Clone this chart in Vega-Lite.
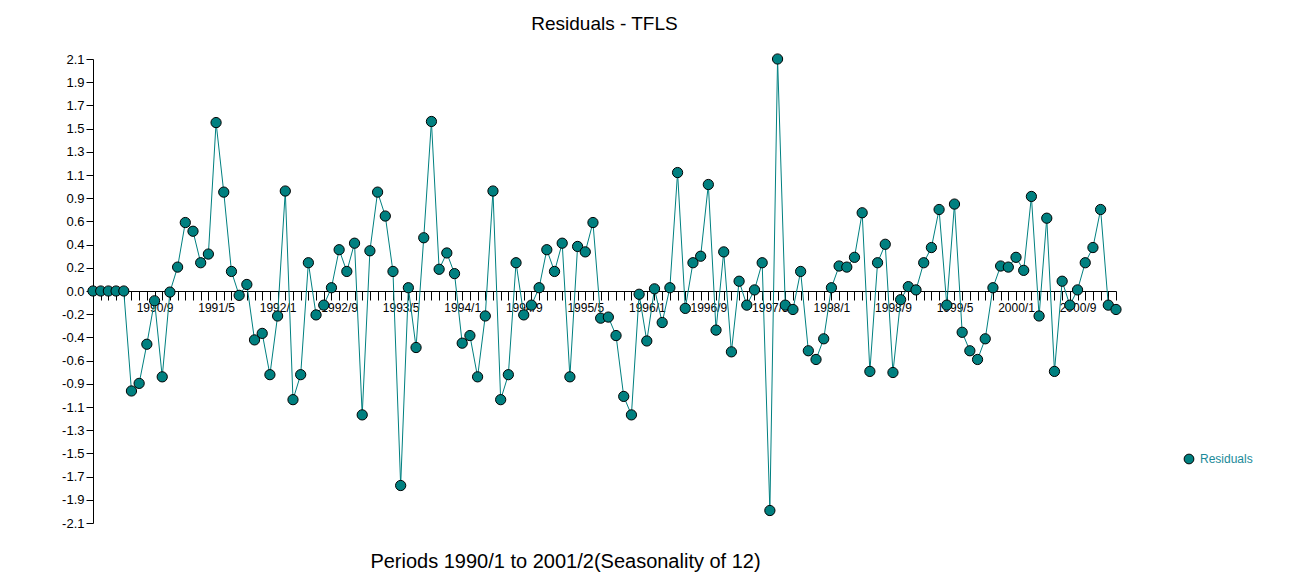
{
  "$schema": "https://vega.github.io/schema/vega-lite/v6.json",
  "autosize": "none",
  "width": 1023,
  "height": 464,
  "padding": {"left": 93, "top": 59, "right": 188, "bottom": 52},
  "background": "white",
  "title": {"text": "Residuals - TFLS", "fontSize": 19, "font": "Liberation Sans", "fontWeight": "normal", "anchor": "middle", "baseline": "alphabetic", "offset": 3, "color": "#000000"},
  "config": {"view": {"stroke": null}, "font": "Liberation Sans"},
  "data": {"values": [
    {"period": "1990/1", "residual": 0}, {"period": "1990/2", "residual": 0}, {"period": "1990/3", "residual": 0}, {"period": "1990/4", "residual": 0},
    {"period": "1990/5", "residual": 0}, {"period": "1990/6", "residual": -0.92}, {"period": "1990/7", "residual": -0.85}, {"period": "1990/8", "residual": -0.49},
    {"period": "1990/9", "residual": -0.09}, {"period": "1990/10", "residual": -0.79}, {"period": "1990/11", "residual": -0.01}, {"period": "1990/12", "residual": 0.22},
    {"period": "1991/1", "residual": 0.63}, {"period": "1991/2", "residual": 0.55}, {"period": "1991/3", "residual": 0.26}, {"period": "1991/4", "residual": 0.34},
    {"period": "1991/5", "residual": 1.55}, {"period": "1991/6", "residual": 0.91}, {"period": "1991/7", "residual": 0.18}, {"period": "1991/8", "residual": -0.04},
    {"period": "1991/9", "residual": 0.06}, {"period": "1991/10", "residual": -0.45}, {"period": "1991/11", "residual": -0.39}, {"period": "1991/12", "residual": -0.77},
    {"period": "1992/1", "residual": -0.23}, {"period": "1992/2", "residual": 0.92}, {"period": "1992/3", "residual": -1.0}, {"period": "1992/4", "residual": -0.77},
    {"period": "1992/5", "residual": 0.26}, {"period": "1992/6", "residual": -0.22}, {"period": "1992/7", "residual": -0.13}, {"period": "1992/8", "residual": 0.03},
    {"period": "1992/9", "residual": 0.38}, {"period": "1992/10", "residual": 0.18}, {"period": "1992/11", "residual": 0.44}, {"period": "1992/12", "residual": -1.14},
    {"period": "1993/1", "residual": 0.37}, {"period": "1993/2", "residual": 0.91}, {"period": "1993/3", "residual": 0.69}, {"period": "1993/4", "residual": 0.18},
    {"period": "1993/5", "residual": -1.79}, {"period": "1993/6", "residual": 0.03}, {"period": "1993/7", "residual": -0.52}, {"period": "1993/8", "residual": 0.49},
    {"period": "1993/9", "residual": 1.56}, {"period": "1993/10", "residual": 0.2}, {"period": "1993/11", "residual": 0.35}, {"period": "1993/12", "residual": 0.16},
    {"period": "1994/1", "residual": -0.48}, {"period": "1994/2", "residual": -0.41}, {"period": "1994/3", "residual": -0.79}, {"period": "1994/4", "residual": -0.23},
    {"period": "1994/5", "residual": 0.92}, {"period": "1994/6", "residual": -1.0}, {"period": "1994/7", "residual": -0.77}, {"period": "1994/8", "residual": 0.26},
    {"period": "1994/9", "residual": -0.22}, {"period": "1994/10", "residual": -0.13}, {"period": "1994/11", "residual": 0.03}, {"period": "1994/12", "residual": 0.38},
    {"period": "1995/1", "residual": 0.18}, {"period": "1995/2", "residual": 0.44}, {"period": "1995/3", "residual": -0.79}, {"period": "1995/4", "residual": 0.41},
    {"period": "1995/5", "residual": 0.36}, {"period": "1995/6", "residual": 0.63}, {"period": "1995/7", "residual": -0.25}, {"period": "1995/8", "residual": -0.24},
    {"period": "1995/9", "residual": -0.41}, {"period": "1995/10", "residual": -0.97}, {"period": "1995/11", "residual": -1.14}, {"period": "1995/12", "residual": -0.03},
    {"period": "1996/1", "residual": -0.46}, {"period": "1996/2", "residual": 0.02}, {"period": "1996/3", "residual": -0.29}, {"period": "1996/4", "residual": 0.03},
    {"period": "1996/5", "residual": 1.09}, {"period": "1996/6", "residual": -0.16}, {"period": "1996/7", "residual": 0.26}, {"period": "1996/8", "residual": 0.32},
    {"period": "1996/9", "residual": 0.98}, {"period": "1996/10", "residual": -0.36}, {"period": "1996/11", "residual": 0.36}, {"period": "1996/12", "residual": -0.56},
    {"period": "1997/1", "residual": 0.09}, {"period": "1997/2", "residual": -0.13}, {"period": "1997/3", "residual": 0.01}, {"period": "1997/4", "residual": 0.26},
    {"period": "1997/5", "residual": -2.02}, {"period": "1997/6", "residual": 2.135}, {"period": "1997/7", "residual": -0.13}, {"period": "1997/8", "residual": -0.17},
    {"period": "1997/9", "residual": 0.18}, {"period": "1997/10", "residual": -0.55}, {"period": "1997/11", "residual": -0.63}, {"period": "1997/12", "residual": -0.44},
    {"period": "1998/1", "residual": 0.03}, {"period": "1998/2", "residual": 0.23}, {"period": "1998/3", "residual": 0.22}, {"period": "1998/4", "residual": 0.31},
    {"period": "1998/5", "residual": 0.72}, {"period": "1998/6", "residual": -0.74}, {"period": "1998/7", "residual": 0.26}, {"period": "1998/8", "residual": 0.43},
    {"period": "1998/9", "residual": -0.75}, {"period": "1998/10", "residual": -0.08}, {"period": "1998/11", "residual": 0.04}, {"period": "1998/12", "residual": 0.01},
    {"period": "1999/1", "residual": 0.26}, {"period": "1999/2", "residual": 0.4}, {"period": "1999/3", "residual": 0.75}, {"period": "1999/4", "residual": -0.13},
    {"period": "1999/5", "residual": 0.8}, {"period": "1999/6", "residual": -0.38}, {"period": "1999/7", "residual": -0.55}, {"period": "1999/8", "residual": -0.63},
    {"period": "1999/9", "residual": -0.44}, {"period": "1999/10", "residual": 0.03}, {"period": "1999/11", "residual": 0.23}, {"period": "1999/12", "residual": 0.22},
    {"period": "2000/1", "residual": 0.31}, {"period": "2000/2", "residual": 0.19}, {"period": "2000/3", "residual": 0.87}, {"period": "2000/4", "residual": -0.23},
    {"period": "2000/5", "residual": 0.67}, {"period": "2000/6", "residual": -0.74}, {"period": "2000/7", "residual": 0.09}, {"period": "2000/8", "residual": -0.13},
    {"period": "2000/9", "residual": 0.01}, {"period": "2000/10", "residual": 0.26}, {"period": "2000/11", "residual": 0.4}, {"period": "2000/12", "residual": 0.75},
    {"period": "2001/1", "residual": -0.13}, {"period": "2001/2", "residual": -0.17}
  ]},
  "encoding": {
    "x": {
      "field": "period", "type": "ordinal", "sort": null,
      "scale": {"type": "point", "padding": 0},
      "axis": {
        "orient": "bottom", "offset": -232, "grid": false,
        "domainColor": "#000000", "domainWidth": 1, "tickColor": "#000000", "tickSize": 9, "tickWidth": 1,
        "labelAngle": 0, "labelFontSize": 12, "labelFont": "Liberation Sans", "labelColor": "#000000", "labelPadding": 2, "labelOverlap": false, "labelAlign": "center",
        "labelExpr": "indexof(['1990/9','1991/5','1992/1','1992/9','1993/5','1994/1','1994/9','1995/5','1996/1','1996/9','1997/5','1998/1','1998/9','1999/5','2000/1','2000/9'], datum.value) >= 0 ? datum.value : ''",
        "title": "Periods 1990/1 to 2001/2(Seasonality of 12)",
        "titleFontSize": 20, "titleFont": "Liberation Sans", "titleFontWeight": "normal", "titleColor": "#000000",
        "titleX": 472, "titleY": 276, "titleAlign": "center", "titleBaseline": "alphabetic"
      }
    },
    "y": {
      "field": "residual", "type": "quantitative",
      "scale": {"domain": [-2.135, 2.135], "nice": false, "zero": false},
      "axis": {
        "grid": false, "title": null,
        "values": [-2.135, -1.9215, -1.708, -1.4945, -1.281, -1.0675, -0.854, -0.6405, -0.427, -0.2135, 0, 0.2135, 0.427, 0.6405, 0.854, 1.0675, 1.281, 1.4945, 1.708, 1.9215, 2.135],
        "labelExpr": "replace(format(datum.value, '.1f'), '−', '-')",
        "domainColor": "#000000", "tickColor": "#000000", "tickSize": 7, "labelPadding": 2,
        "labelFontSize": 13, "labelFont": "Liberation Sans", "labelColor": "#000000"
      }
    }
  },
  "layer": [
    {"mark": {"type": "line", "color": "#008080", "strokeWidth": 1}},
    {
      "mark": {"type": "point", "filled": true, "size": 105, "stroke": "#000000", "strokeWidth": 1, "opacity": 1, "shape": "circle"},
      "encoding": {
        "color": {"datum": "Residuals", "type": "nominal", "scale": {"range": ["#008080"]},
          "legend": {"title": null, "orient": "none", "legendX": 1090, "legendY": 394, "labelFontSize": 12, "labelFont": "Liberation Sans", "labelColor": "#1a8a99", "symbolSize": 95, "symbolStrokeColor": "#000000", "symbolStrokeWidth": 1, "symbolType": "circle", "labelOffset": 5}
        }
      }
    }
  ]
}
